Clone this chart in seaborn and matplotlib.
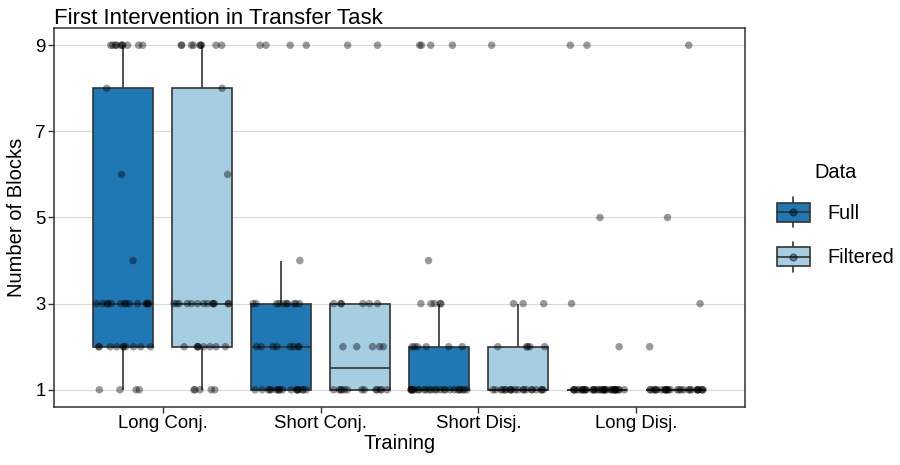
import numpy as np
import pandas as pd
import matplotlib
matplotlib.use("Agg")
import matplotlib.pyplot as plt
import seaborn as sns
from matplotlib.patches import Patch, Rectangle
from matplotlib.lines import Line2D
from matplotlib.legend_handler import HandlerBase

trainings = ["Long Conj.", "Short Conj.", "Short Disj.", "Long Disj."]
datasets = ["Full", "Filtered"]
blocks = [1, 2, 3, 4, 5, 6, 8, 9]

# number of participants needing each number of blocks
long_conj_full = [4, 10, 14, 1, 0, 1, 1, 10]
long_conj_filtered = [5, 8, 13, 0, 0, 1, 1, 9]
short_conj_full = [18, 8, 10, 1, 0, 0, 0, 4]
short_conj_filtered = [13, 5, 6, 0, 0, 0, 0, 2]
short_disj_full = [25, 6, 5, 1, 0, 0, 0, 4]
short_disj_filtered = [20, 5, 3, 0, 0, 0, 0, 1]
long_disj_full = [35, 1, 1, 0, 1, 0, 0, 2]
long_disj_filtered = [28, 1, 1, 0, 1, 0, 0, 1]

palette = {"Full": "#1F78B4", "Filtered": "#A6CEE3"}
EDGE = "#333333"

counts = {
    ("Long Conj.", "Full"): long_conj_full,
    ("Long Conj.", "Filtered"): long_conj_filtered,
    ("Short Conj.", "Full"): short_conj_full,
    ("Short Conj.", "Filtered"): short_conj_filtered,
    ("Short Disj.", "Full"): short_disj_full,
    ("Short Disj.", "Filtered"): short_disj_filtered,
    ("Long Disj.", "Full"): long_disj_full,
    ("Long Disj.", "Filtered"): long_disj_filtered,
}

rows = []
for (training, data), n in counts.items():
    for b in np.repeat(blocks, n):
        rows.append({"Training": training, "Data": data, "Blocks": b})
df = pd.DataFrame(rows)

sns.set_theme(style="white")
plt.rcParams["font.family"] = ["Liberation Sans", "DejaVu Sans"]
plt.rcParams["text.color"] = "black"
plt.rcParams["axes.labelcolor"] = "black"
np.random.seed(7)

fig, ax = plt.subplots(figsize=(9, 4.65), dpi=100)
fig.subplots_adjust(left=54 / 900, right=745 / 900, top=1 - 28 / 465, bottom=1 - 407 / 465)

sns.boxplot(
    data=df, x="Training", y="Blocks", hue="Data",
    order=trainings, hue_order=datasets, palette=palette,
    width=1.0, gap=0.24, saturation=1, linecolor=EDGE, linewidth=1.2,
    showfliers=False, showcaps=False, legend=False, ax=ax,
)

n_before = len(ax.collections)
sns.stripplot(
    data=df, x="Training", y="Blocks", hue="Data",
    order=trainings, hue_order=datasets, dodge=True, jitter=0.36,
    palette={"Full": "black", "Filtered": "black"}, alpha=0.4, size=5.4,
    linewidth=0, legend=False, zorder=3, ax=ax,
)
# stripplot dodges by 0.2, boxes here sit at +-0.25
for coll in ax.collections[n_before:]:
    off = coll.get_offsets()
    if len(off) == 0:
        continue
    c = np.round(off[:, 0])
    off[:, 0] = off[:, 0] + np.sign(off[:, 0] - c) * 0.05
    coll.set_offsets(off)

ax.set_xlim(-0.69, 3.69)
ax.set_ylim(0.6, 9.4)
ax.set_yticks([1, 3, 5, 7, 9])
ax.yaxis.grid(True, color="#d9d9d9", linewidth=0.8)
ax.set_axisbelow(True)
for s in ax.spines.values():
    s.set_color(EDGE)
    s.set_linewidth(1.1)
ax.tick_params(axis="both", which="major", direction="out", length=4, width=1.0,
               color=EDGE, labelsize=13.4, labelcolor="black", pad=2,
               bottom=True, left=True)
ax.set_xlabel("Training", fontsize=14.5, labelpad=1)
ax.set_ylabel("Number of Blocks", fontsize=14.5, labelpad=7)
ax.set_title("First Intervention in Transfer Task", loc="left", fontsize=16, pad=3)


class BoxKey(HandlerBase):
    def create_artists(self, legend, orig, xd, yd, w, h, fontsize, trans):
        x0, y0 = -xd, -yd
        cx, cy = x0 + w / 2, y0 + h / 2
        bh = h * 0.65
        whisk = Line2D([cx, cx], [y0, y0 + h], color=EDGE, lw=1.2, transform=trans)
        box = Rectangle((x0, cy - bh / 2), w, bh, facecolor=orig.get_facecolor(),
                        edgecolor=EDGE, lw=1.2, transform=trans)
        med = Line2D([x0, x0 + w], [cy, cy], color=EDGE, lw=1.2, transform=trans)
        dot = Line2D([cx], [cy], marker="o", ms=5, color="black", alpha=0.4,
                     lw=0, transform=trans)
        return [whisk, box, med, dot]


handles = [Patch(facecolor=palette[d], edgecolor=EDGE, label=d) for d in datasets]
leg = ax.legend(
    handles=handles, title="Data", loc="center left", bbox_to_anchor=(1.02, 0.5),
    frameon=False, fontsize=14.4, title_fontsize=14.4, handlelength=1.65,
    handleheight=1.9, labelspacing=0.75, handletextpad=0.9,
    handler_map={Patch: BoxKey()},
)

plt.savefig("out.png", dpi=100)
plt.close()
